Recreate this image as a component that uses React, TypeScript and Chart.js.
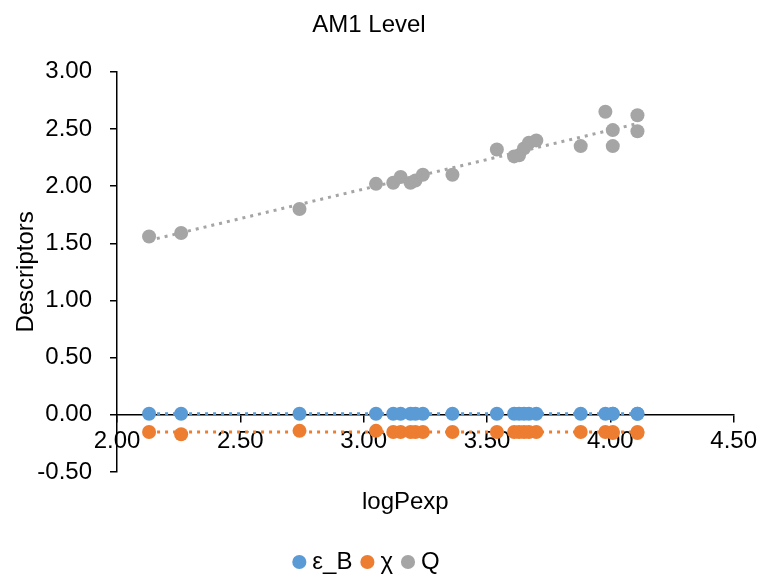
import React, { useEffect, useRef } from 'react';
import { Chart, registerables } from 'chart.js';

Chart.register(...registerables);

const chartTitle = 'AM1 Level';
const xTitle = 'logPexp';
const yTitle = 'Descriptors';
const seriesNames = ['ε_B', 'χ', 'Q'];
const seriesColors = ['#5B9BD5', '#ED7D31', '#A5A5A5'];

const logP = [2.13, 2.26, 2.74, 3.05, 3.12, 3.15, 3.19, 3.21, 3.24, 3.36, 3.54, 3.61, 3.63, 3.65, 3.67, 3.70, 3.88, 3.98, 4.01, 4.01, 4.11, 4.11];
const epsB = [0.01, 0.01, 0.01, 0.01, 0.01, 0.01, 0.01, 0.01, 0.01, 0.01, 0.01, 0.01, 0.01, 0.01, 0.01, 0.01, 0.01, 0.01, 0.01, 0.01, 0.01, 0.01];
const chi = [-0.15, -0.17, -0.14, -0.14, -0.15, -0.15, -0.15, -0.15, -0.15, -0.15, -0.15, -0.15, -0.15, -0.15, -0.15, -0.15, -0.15, -0.15, -0.16, -0.15, -0.16, -0.15];
const Q = [1.56, 1.59, 1.80, 2.02, 2.03, 2.08, 2.03, 2.05, 2.10, 2.10, 2.32, 2.26, 2.27, 2.33, 2.38, 2.40, 2.35, 2.65, 2.49, 2.35, 2.62, 2.48];

const xMin = 2, xMax = 4.5, xStep = 0.5;
const yMin = -0.5, yMax = 3, yStep = 0.5;

const FONT = "'Liberation Sans', Arial, Helvetica, sans-serif";

function points(xs: number[], ys: number[]) {
  return xs.map((x, i) => ({ x, y: ys[i] }));
}

function trend(xs: number[], ys: number[]) {
  const n = xs.length;
  const mx = xs.reduce((a, b) => a + b, 0) / n;
  const my = ys.reduce((a, b) => a + b, 0) / n;
  let sxy = 0, sxx = 0;
  for (let i = 0; i < n; i++) {
    sxy += (xs[i] - mx) * (ys[i] - my);
    sxx += (xs[i] - mx) * (xs[i] - mx);
  }
  const b = sxx ? sxy / sxx : 0;
  const a = my - b * mx;
  const lo = Math.min(...xs), hi = Math.max(...xs);
  return [{ x: lo, y: a + b * lo }, { x: hi, y: a + b * hi }];
}

// shifts the x-axis title box a little to the left, as in the reference
const shiftXTitle = {
  id: 'shiftXTitle',
  afterLayout(chart: any) {
    const s = chart.scales.x2;
    if (s) s.right = s.right - 40;
  },
};

export default function App() {
  const ref = useRef<HTMLCanvasElement | null>(null);

  useEffect(() => {
    if (!ref.current) return;
    const seriesY = [epsB, chi, Q];
    const scatterSets = seriesY.map((ys, i) => ({
      type: 'scatter' as const,
      label: seriesNames[i],
      data: points(logP, ys),
      backgroundColor: seriesColors[i],
      borderColor: seriesColors[i],
      pointRadius: 7,
      pointHoverRadius: 7,
      pointBorderWidth: 0,
      showLine: false,
      order: 2,
    }));
    const trendSets = seriesY.map((ys, i) => ({
      type: 'line' as const,
      label: seriesNames[i] + ' trend',
      data: trend(logP, ys),
      borderColor: seriesColors[i],
      backgroundColor: seriesColors[i],
      borderWidth: 3,
      borderDash: [3, 5],
      pointRadius: 0,
      fill: false,
      order: 1,
    }));

    const chart = new Chart(ref.current, {
      type: 'scatter',
      data: { datasets: [...scatterSets, ...trendSets] as any },
      plugins: [shiftXTitle],
      options: {
        animation: false,
        responsive: false,
        maintainAspectRatio: false,
        layout: { padding: { left: 0, right: 24, top: 0, bottom: -10 } },
        plugins: {
          tooltip: { enabled: false },
          title: {
            display: true,
            text: chartTitle,
            color: '#000',
            font: { family: FONT, size: 24, weight: 'normal' },
            padding: { top: 11, bottom: 32 },
          },
          legend: {
            display: true,
            position: 'bottom',
            labels: {
              usePointStyle: true,
              pointStyle: 'circle',
              boxWidth: 2,
              boxHeight: 10,
              padding: 14,
              color: '#000',
              font: { family: FONT, size: 24 },
              filter: (item: any) => item.datasetIndex < 3,
            },
          },
        },
        scales: {
          x: {
            type: 'linear',
            position: { y: 0 } as any,
            min: xMin,
            max: xMax,
            ticks: {
              stepSize: xStep,
              color: '#000',
              padding: 5,
              font: { family: FONT, size: 24 },
              callback: (v: any) => Number(v).toFixed(2),
            },
            grid: { display: true, drawOnChartArea: false, drawTicks: true, tickLength: 7, color: '#000', lineWidth: 1.5 },
            border: { display: true, color: '#000', width: 1.5 },
            title: { display: false },
          },
          x2: {
            type: 'linear',
            position: 'bottom',
            min: 0,
            max: 1,
            ticks: { display: false },
            grid: { display: false, drawTicks: false },
            border: { display: false },
            title: {
              display: true,
              text: xTitle,
              color: '#000',
              font: { family: FONT, size: 24 },
              padding: { top: 0, bottom: 19 },
            },
            afterFit: (s: any) => { s.height = 64; },
          },
          y: {
            type: 'linear',
            position: 'left',
            min: yMin,
            max: yMax,
            ticks: {
              stepSize: yStep,
              color: '#000',
              padding: 18,
              font: { family: FONT, size: 24 },
              callback: (v: any) => Number(v).toFixed(2),
            },
            grid: { display: true, drawOnChartArea: false, drawTicks: true, tickLength: 7, color: '#000', lineWidth: 1.5 },
            border: { display: true, color: '#000', width: 1.5 },
            title: {
              display: true,
              text: yTitle,
              color: '#000',
              font: { family: FONT, size: 24 },
              padding: { top: 12, bottom: 0 },
            },
            afterFit: (s: any) => { s.width = 117; },
          },
        },
      } as any,
    });
    return () => chart.destroy();
  }, []);

  return (
    <div style={{ position: 'fixed', left: 0, top: 0, width: 762, height: 574, background: '#fff' }}>
      <canvas ref={ref} width={762} height={574} style={{ display: 'block', width: 762, height: 574 }} />
    </div>
  );
}
